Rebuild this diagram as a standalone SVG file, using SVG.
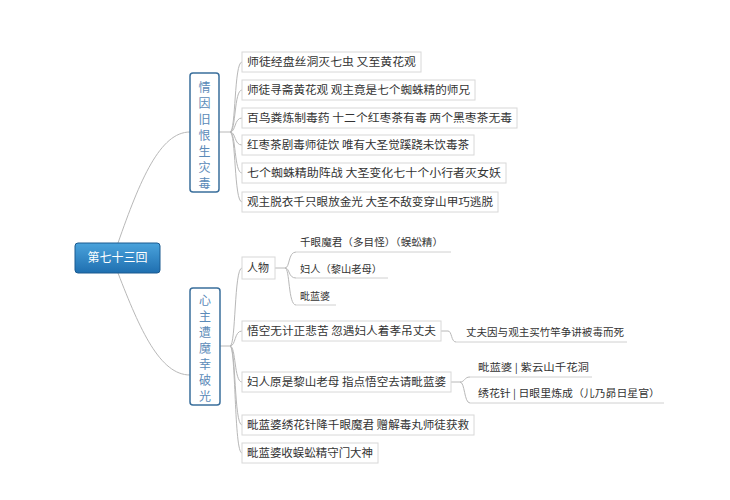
<svg xmlns="http://www.w3.org/2000/svg" width="730" height="500" viewBox="0 0 730 500">
<defs>
<linearGradient id="g" x1="0" y1="0" x2="0" y2="1"><stop offset="0" stop-color="#4aa3dc"/><stop offset="1" stop-color="#1f6fb0"/></linearGradient>
<style>
text{font-family:"Noto Sans CJK SC",sans-serif;font-size:11px;fill:#333}
.leaf{fill:#fff;stroke:#d8d8d8;stroke-width:1}
.br{fill:#fff;stroke:#3a6f9c;stroke-width:1.5}
.bt{fill:#5b8ab8;font-size:12px;text-anchor:middle}
.c{fill:none;stroke:#b8b8b8;stroke-width:1}
.u{stroke:#d0d0d0;stroke-width:1}
.s{font-size:10px}
</style>
</defs>
<g id="connectors">
<path class="c" d="M118 243 C140 180,160 132,190 132"/>
<path class="c" d="M118 273 C140 330,160 375,190 375"/>
<path class="c" d="M219 132 H230 M230 132 C236 132,234 62,242 62 M230 132 C236 132,234 90,242 90 M230 132 C236 132,234 118,242 118 M230 132 C236 132,234 145,242 145 M230 132 C236 132,234 173,242 173 M230 132 C236 132,234 202,242 202"/>
<path class="c" d="M220 346 H230 M230 346 C236 346,234 268,242 268 M230 346 C236 346,234 331,242 331 M230 346 C236 346,234 382,242 382 M230 346 C236 346,234 425,242 425 M230 346 C236 346,234 453,242 453"/>
<path class="c" d="M275 268 H285 M285 268 C290 268,288 252,296 252 M285 268 C290 268,288 278,296 278 M285 268 C290 268,288 305,296 305"/>
<path class="c" d="M441 331 H448 C452 331,451 342,456 342"/>
<path class="c" d="M451 382 H460 C465 382,464 377,470 377 M460 382 C465 382,464 403,470 403"/>
<line class="u" x1="296" y1="252" x2="451" y2="252"/>
<line class="u" x1="296" y1="278" x2="388" y2="278"/>
<line class="u" x1="296" y1="305" x2="336" y2="305"/>
<line class="u" x1="456" y1="342" x2="627" y2="342"/>
<line class="u" x1="470" y1="377" x2="592" y2="377"/>
<line class="u" x1="470" y1="403" x2="664" y2="403"/>
</g>
<g id="root"><rect x="75" y="243" width="85" height="30" rx="3" fill="url(#g)" stroke="#1a5a90"/><text x="117.5" y="262" text-anchor="middle" style="fill:#fff;font-size:12px">第七十三回</text></g>
<g id="b1"><rect class="br" x="190" y="73" width="29" height="119" rx="3"/>
<text class="bt" x="204.5" y="92">情</text><text class="bt" x="204.5" y="108">因</text><text class="bt" x="204.5" y="124">旧</text><text class="bt" x="204.5" y="140">恨</text><text class="bt" x="204.5" y="156">生</text><text class="bt" x="204.5" y="172">灾</text><text class="bt" x="204.5" y="188">毒</text></g>
<g id="b2"><rect class="br" x="190" y="288" width="30" height="117" rx="3"/>
<text class="bt" x="205" y="305">心</text><text class="bt" x="205" y="321">主</text><text class="bt" x="205" y="337">遭</text><text class="bt" x="205" y="353">魔</text><text class="bt" x="205" y="369">幸</text><text class="bt" x="205" y="385">破</text><text class="bt" x="205" y="401">光</text></g>
<g id="l1"><rect class="leaf" x="242" y="52" width="179" height="20"/><text x="247" y="66" textLength="169" lengthAdjust="spacingAndGlyphs">师徒经盘丝洞灭七虫  又至黄花观</text></g>
<g id="l2"><rect class="leaf" x="242" y="80" width="233" height="20"/><text x="247" y="94" textLength="223" lengthAdjust="spacingAndGlyphs">师徒寻斋黄花观 观主竟是七个蜘蛛精的师兄</text></g>
<g id="l3"><rect class="leaf" x="242" y="108" width="275" height="20"/><text x="247" y="122" textLength="265" lengthAdjust="spacingAndGlyphs">百鸟粪炼制毒药 十二个红枣茶有毒 两个黑枣茶无毒</text></g>
<g id="l4"><rect class="leaf" x="242" y="135" width="232" height="20"/><text x="247" y="149" textLength="222" lengthAdjust="spacingAndGlyphs">红枣茶剧毒师徒饮 唯有大圣觉蹊跷未饮毒茶</text></g>
<g id="l5"><rect class="leaf" x="242" y="163" width="264" height="20"/><text x="247" y="177" textLength="254" lengthAdjust="spacingAndGlyphs">七个蜘蛛精助阵战   大圣变化七十个小行者灭女妖</text></g>
<g id="l6"><rect class="leaf" x="242" y="192" width="256" height="20"/><text x="247" y="206" textLength="246" lengthAdjust="spacingAndGlyphs">观主脱衣千只眼放金光 大圣不敌变穿山甲巧逃脱</text></g>
<g id="l7"><rect class="leaf" x="242" y="257" width="33" height="22"/><text x="247" y="272">人物</text>
<text class="s" x="300" y="246" textLength="143" lengthAdjust="spacingAndGlyphs">千眼魔君（多目怪）（蜈蚣精）</text><text class="s" x="300" y="273" textLength="82" lengthAdjust="spacingAndGlyphs">妇人（黎山老母）</text><text class="s" x="300" y="300">毗蓝婆</text></g>
<g id="l8"><rect class="leaf" x="242" y="321" width="199" height="20"/><text x="247" y="335" textLength="189" lengthAdjust="spacingAndGlyphs">悟空无计正悲苦 忽遇妇人着孝吊丈夫</text><text class="s" x="466" y="336" textLength="158" lengthAdjust="spacingAndGlyphs">丈夫因与观主买竹竿争讲被毒而死</text></g>
<g id="l9"><rect class="leaf" x="242" y="372" width="209" height="20"/><text x="247" y="386" textLength="199" lengthAdjust="spacingAndGlyphs">妇人原是黎山老母 指点悟空去请毗蓝婆</text>
<text class="s" x="478" y="371" textLength="111" lengthAdjust="spacingAndGlyphs">毗蓝婆  |  紫云山千花洞</text><text class="s" x="478" y="397" textLength="182" lengthAdjust="spacingAndGlyphs">绣花针  |  日眼里炼成（儿乃昴日星官）</text></g>
<g id="l10"><rect class="leaf" x="242" y="415" width="232" height="20"/><text x="247" y="429" textLength="222" lengthAdjust="spacingAndGlyphs">毗蓝婆绣花针降千眼魔君 赠解毒丸师徒获救</text></g>
<g id="l11"><rect class="leaf" x="242" y="443" width="136" height="20"/><text x="247" y="457" textLength="126" lengthAdjust="spacingAndGlyphs">毗蓝婆收蜈蚣精守门大神</text></g>
</svg>
